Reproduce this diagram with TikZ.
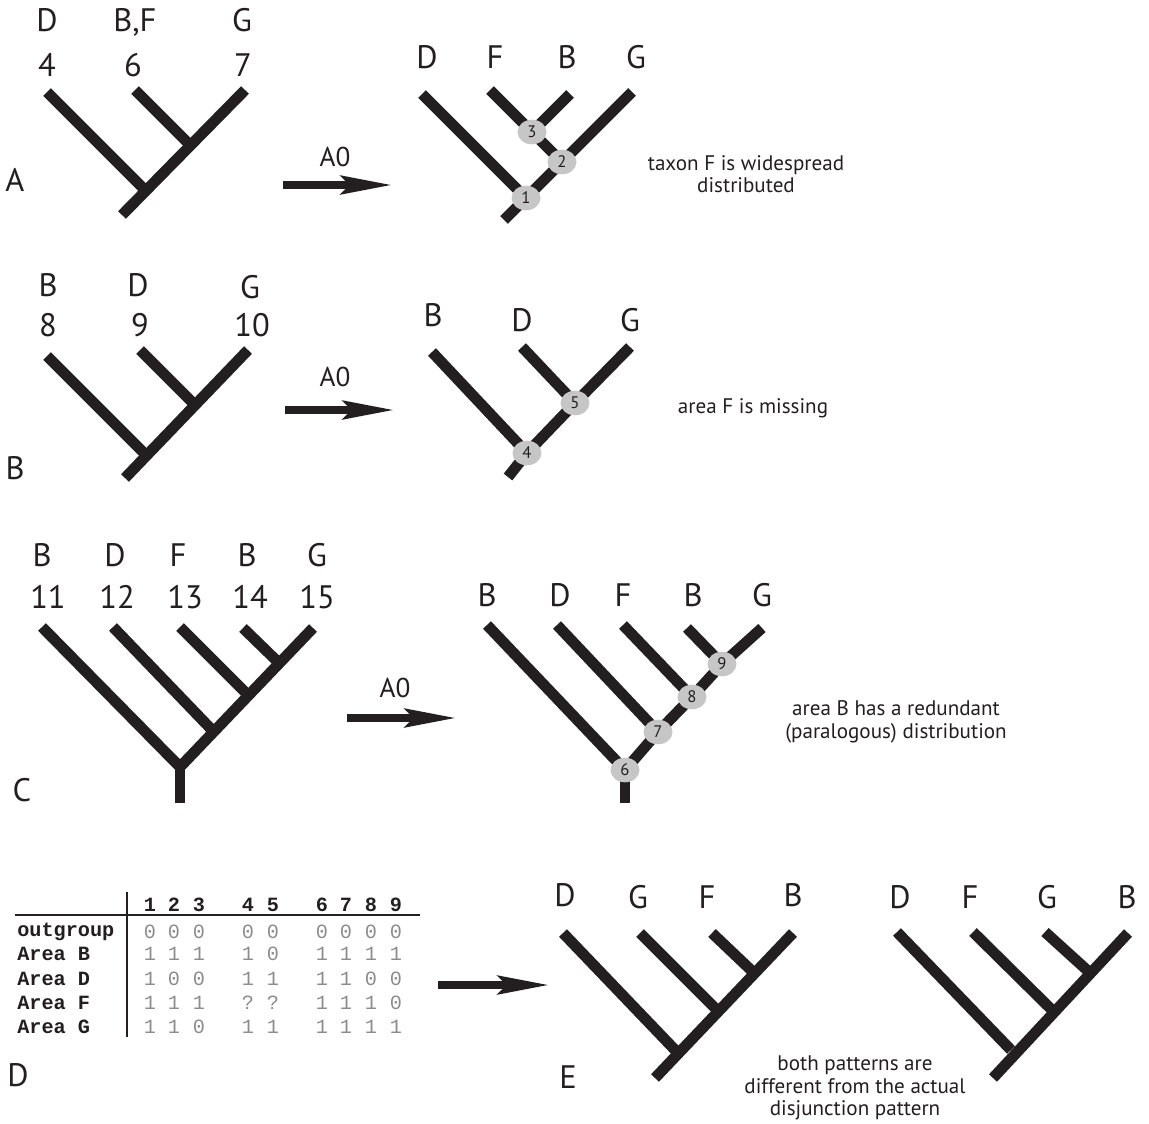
\documentclass[tikz,border=0pt]{standalone}
\usepackage{fontspec}
\setmainfont{PT Sans}
\setmonofont{Liberation Mono}
\usetikzlibrary{arrows.meta,shapes.geometric}
\definecolor{TreeBlack}{HTML}{231F20}
\definecolor{KnotGray}{HTML}{C6C6C6}
\definecolor{CellGray}{HTML}{8C8C8C}

\tikzset{
  branch/.style={draw=TreeBlack, line width=6.2pt, line join=miter},
  knot/.style={ellipse, fill=KnotGray, minimum width=16.5pt, minimum height=14pt,
    inner sep=0pt, font=\fontsize{9.5}{10}\selectfont, text=TreeBlack},
  area/.style={font=\fontsize{18.5}{19}\selectfont, text=TreeBlack, text depth=0pt},
  note/.style={font=\fontsize{12}{12.8}\selectfont, align=center, text=TreeBlack},
  move/.style={draw=TreeBlack, line width=4.5pt,
    -{Stealth[length=29pt,width=10.5pt,inset=5pt]}},
  movelabel/.style={font=\fontsize{15.5}{16}\selectfont, text=TreeBlack},
  cell/.style={font=\ttfamily\fontsize{11.5}{12}\selectfont, text=CellGray},
  colhead/.style={font=\ttfamily\bfseries\fontsize{11.5}{12}\selectfont, text=TreeBlack},
  rowhead/.style={colhead, anchor=west, inner sep=0pt},
}

\begin{document}
\begin{tikzpicture}[x=0.02cm, y=-0.02cm]
  \useasboundingbox (0,0) rectangle (1149,1123);

  % --- A: widespread taxon ---
  \node[area] (labA) at (15,180) {A};
  \node[area] (aDl) at (47,20) {D};
  \node[area] (aBFl) at (135,20) {B,F};
  \node[area] (aGl) at (242,20) {G};
  \node[area] (aDn) at (47,65) {4};
  \node[area] (aBFn) at (133,65) {6};
  \node[area] (aGn) at (243,65) {7};
  \coordinate (aD) at (47,92);
  \coordinate (aBF) at (135,90);
  \coordinate (aG) at (245,90);
  \coordinate (aJ1) at (145,190);
  \coordinate (aJ2) at (190,145);
  \coordinate (aR) at (122,215);
  \draw[branch] (aD) -- (aJ1);
  \draw[branch] (aBF) -- (aJ2);
  \draw[branch] (aR) -- (aG);

  \coordinate (moveA1) at (283,185);
  \coordinate (moveA2) at (392,185);
  \draw[move] (moveA1) -- (moveA2);
  \node[movelabel] (moveAl) at (335,157) {A0};

  \node[area] (a2Dl) at (427,57) {D};
  \node[area] (a2Fl) at (495,57) {F};
  \node[area] (a2Bl) at (567,57) {B};
  \node[area] (a2Gl) at (636,57) {G};
  \coordinate (a2D) at (422,94);
  \coordinate (a2F) at (490,90);
  \coordinate (a2B) at (570,94);
  \coordinate (a2G) at (632,92);
  \coordinate (a2R) at (504,220);
  \coordinate (n1) at (526,198);
  \coordinate (n2) at (562,162);
  \coordinate (n3) at (532,132);
  \draw[branch] (a2D) -- (n1);
  \draw[branch] (a2R) -- (n1) -- (n2) -- (a2G);
  \draw[branch] (a2F) -- (n3) -- (n2);
  \draw[branch] (a2B) -- (n3);
  \node[knot] (k1) at (n1) {1};
  \node[knot] (k2) at (n2) {2};
  \node[knot] (k3) at (n3) {3};
  \node[note] (noteA) at (746,174) {taxon F is widespread\\distributed};

  % --- B: missing area ---
  \node[area] (labB) at (15,468) {B};
  \node[area] (bBl) at (48,285) {B};
  \node[area] (bDl) at (138,285) {D};
  \node[area] (bGl) at (250,287) {G};
  \node[area] (bBn) at (48,325) {8};
  \node[area] (bDn) at (140,325) {9};
  \node[area] (bGn) at (252,325) {10};
  \coordinate (bB) at (47,356);
  \coordinate (bD) at (140,350);
  \coordinate (bG) at (248,350);
  \coordinate (bJ1) at (145,454);
  \coordinate (bJ2) at (193,403);
  \coordinate (bR) at (125,478);
  \draw[branch] (bB) -- (bJ1);
  \draw[branch] (bD) -- (bJ2);
  \draw[branch] (bR) -- (bG);

  \coordinate (moveB1) at (285,410);
  \coordinate (moveB2) at (394,410);
  \draw[move] (moveB1) -- (moveB2);
  \node[movelabel] (moveBl) at (335,377) {A0};

  \node[area] (b2Bl) at (433,315) {B};
  \node[area] (b2Dl) at (522,320) {D};
  \node[area] (b2Gl) at (630,320) {G};
  \coordinate (b2B) at (432,352);
  \coordinate (b2D) at (522,347);
  \coordinate (b2G) at (630,347);
  \coordinate (b2R) at (508,477);
  \coordinate (n4) at (527,453);
  \coordinate (n5) at (575,403);
  \draw[branch] (b2B) -- (n4);
  \draw[branch] (b2D) -- (n5);
  \draw[branch] (b2R) -- (n4) -- (n5) -- (b2G);
  \node[knot] (k4) at (n4) {4};
  \node[knot] (k5) at (n5) {5};
  \node[note] (noteB) at (753,408) {area F is missing};

  % --- C: redundant area ---
  \node[area] (labC) at (22,790) {C};
  \node[area] (cBl) at (42,555) {B};
  \node[area] (cDl) at (115,555) {D};
  \node[area] (cFl) at (178,555) {F};
  \node[area] (cB2l) at (247,555) {B};
  \node[area] (cGl) at (317,555) {G};
  \node[area] (cBn) at (48,597) {11};
  \node[area] (cDn) at (117,597) {12};
  \node[area] (cFn) at (185,597) {13};
  \node[area] (cB2n) at (250,597) {14};
  \node[area] (cGn) at (317,597) {15};
  \coordinate (cB) at (42,627);
  \coordinate (cD) at (113,627);
  \coordinate (cF) at (180,627);
  \coordinate (cB2) at (243,628);
  \coordinate (cG) at (313,628);
  \coordinate (cR) at (180,767);
  \coordinate (cS) at (180,803);
  \coordinate (cJ2) at (213,731);
  \coordinate (cJ3) at (248,695);
  \coordinate (cJ4) at (278,662);
  \draw[branch] (cB) -- (cR) -- (cG);
  \draw[branch] (cR) -- (cS);
  \draw[branch] (cD) -- (cJ2);
  \draw[branch] (cF) -- (cJ3);
  \draw[branch] (cB2) -- (cJ4);

  \coordinate (moveC1) at (347,718);
  \coordinate (moveC2) at (456,718);
  \draw[move] (moveC1) -- (moveC2);
  \node[movelabel] (moveCl) at (395,688) {A0};

  \node[area] (c2Bl) at (487,595) {B};
  \node[area] (c2Dl) at (560,595) {D};
  \node[area] (c2Fl) at (623,595) {F};
  \node[area] (c2B2l) at (693,595) {B};
  \node[area] (c2Gl) at (762,595) {G};
  \coordinate (c2B) at (487,625);
  \coordinate (c2D) at (557,625);
  \coordinate (c2F) at (623,625);
  \coordinate (c2B2) at (687,628);
  \coordinate (c2G) at (762,628);
  \coordinate (n6) at (625,770);
  \coordinate (n7) at (658,732);
  \coordinate (n8) at (692,697);
  \coordinate (n9) at (722,664);
  \coordinate (c2S) at (625,803);
  \draw[branch] (c2B) -- (n6) -- (n7) -- (n8) -- (n9) -- (c2G);
  \draw[branch] (n6) -- (c2S);
  \draw[branch] (c2D) -- (n7);
  \draw[branch] (c2F) -- (n8);
  \draw[branch] (c2B2) -- (n9);
  \node[knot] (k6) at (n6) {6};
  \node[knot] (k7) at (n7) {7};
  \node[knot] (k8) at (n8) {8};
  \node[knot] (k9) at (n9) {9};
  \node[note] (noteC) at (896,722) {area B has a redundant\\(paralogous) distribution};

  % --- D: data matrix ---
  \node[area] (labD) at (18,1075) {D};
  \draw[TreeBlack, line width=0.6pt] (127,892) -- (127,1037);
  \draw[TreeBlack, line width=0.6pt] (15,915) -- (420,915);
  \foreach \c/\x in {1/150,2/174,3/199,4/248,5/273,6/322,7/346,8/371,9/396}
    \node[colhead] (h\c) at (\x,905) {\c};
  \node[rowhead] (rOut) at (17,932) {outgroup};
  \node[rowhead] (rB) at (17,954) {Area B};
  \node[rowhead] (rD) at (17,979) {Area D};
  \node[rowhead] (rF) at (17,1003) {Area F};
  \node[rowhead] (rG) at (17,1027) {Area G};
  \foreach \x/\v in {150/0,174/0,199/0,248/0,273/0,322/0,346/0,371/0,396/0}
    \node[cell] (o\x) at (\x,932) {\v};
  \foreach \x/\v in {150/1,174/1,199/1,248/1,273/0,322/1,346/1,371/1,396/1}
    \node[cell] (b\x) at (\x,954) {\v};
  \foreach \x/\v in {150/1,174/0,199/0,248/1,273/1,322/1,346/1,371/0,396/0}
    \node[cell] (d\x) at (\x,979) {\v};
  \foreach \x/\v in {150/1,174/1,199/1,248/?,273/?,322/1,346/1,371/1,396/0}
    \node[cell] (f\x) at (\x,1003) {\v};
  \foreach \x/\v in {150/1,174/1,199/0,248/1,273/1,322/1,346/1,371/1,396/1}
    \node[cell] (g\x) at (\x,1027) {\v};

  \coordinate (moveD1) at (438,985);
  \coordinate (moveD2) at (549,985);
  \draw[move] (moveD1) -- (moveD2);

  % --- E: resulting cladograms ---
  \node[area] (labE) at (568,1077) {E};
  \node[area] (e1Dl) at (565,895) {D};
  \node[area] (e1Gl) at (638,897) {G};
  \node[area] (e1Fl) at (707,897) {F};
  \node[area] (e1Bl) at (793,895) {B};
  \coordinate (e1D) at (563,933);
  \coordinate (e1G) at (640,933);
  \coordinate (e1F) at (712,933);
  \coordinate (e1B) at (793,933);
  \coordinate (e1J1) at (677,1052);
  \coordinate (e1J2) at (716,1009);
  \coordinate (e1J3) at (752,971);
  \coordinate (e1R) at (655,1078);
  \draw[branch] (e1D) -- (e1J1);
  \draw[branch] (e1G) -- (e1J2);
  \draw[branch] (e1F) -- (e1J3);
  \draw[branch] (e1R) -- (e1B);

  \node[area] (e2Dl) at (900,897) {D};
  \node[area] (e2Fl) at (970,897) {F};
  \node[area] (e2Gl) at (1047,897) {G};
  \node[area] (e2Bl) at (1127,897) {B};
  \coordinate (e2D) at (897,932);
  \coordinate (e2F) at (973,932);
  \coordinate (e2G) at (1045,932);
  \coordinate (e2B) at (1128,933);
  \coordinate (e2J1) at (1011,1050);
  \coordinate (e2J2) at (1051,1009);
  \coordinate (e2J3) at (1088,971);
  \coordinate (e2R) at (993,1078);
  \draw[branch] (e2D) -- (e2J1);
  \draw[branch] (e2F) -- (e2J2);
  \draw[branch] (e2G) -- (e2J3);
  \draw[branch] (e2R) -- (e2B);
  \node[note] (noteE) at (855,1088) {both patterns are\\different from the actual\\disjunction pattern};
\end{tikzpicture}
\end{document}
